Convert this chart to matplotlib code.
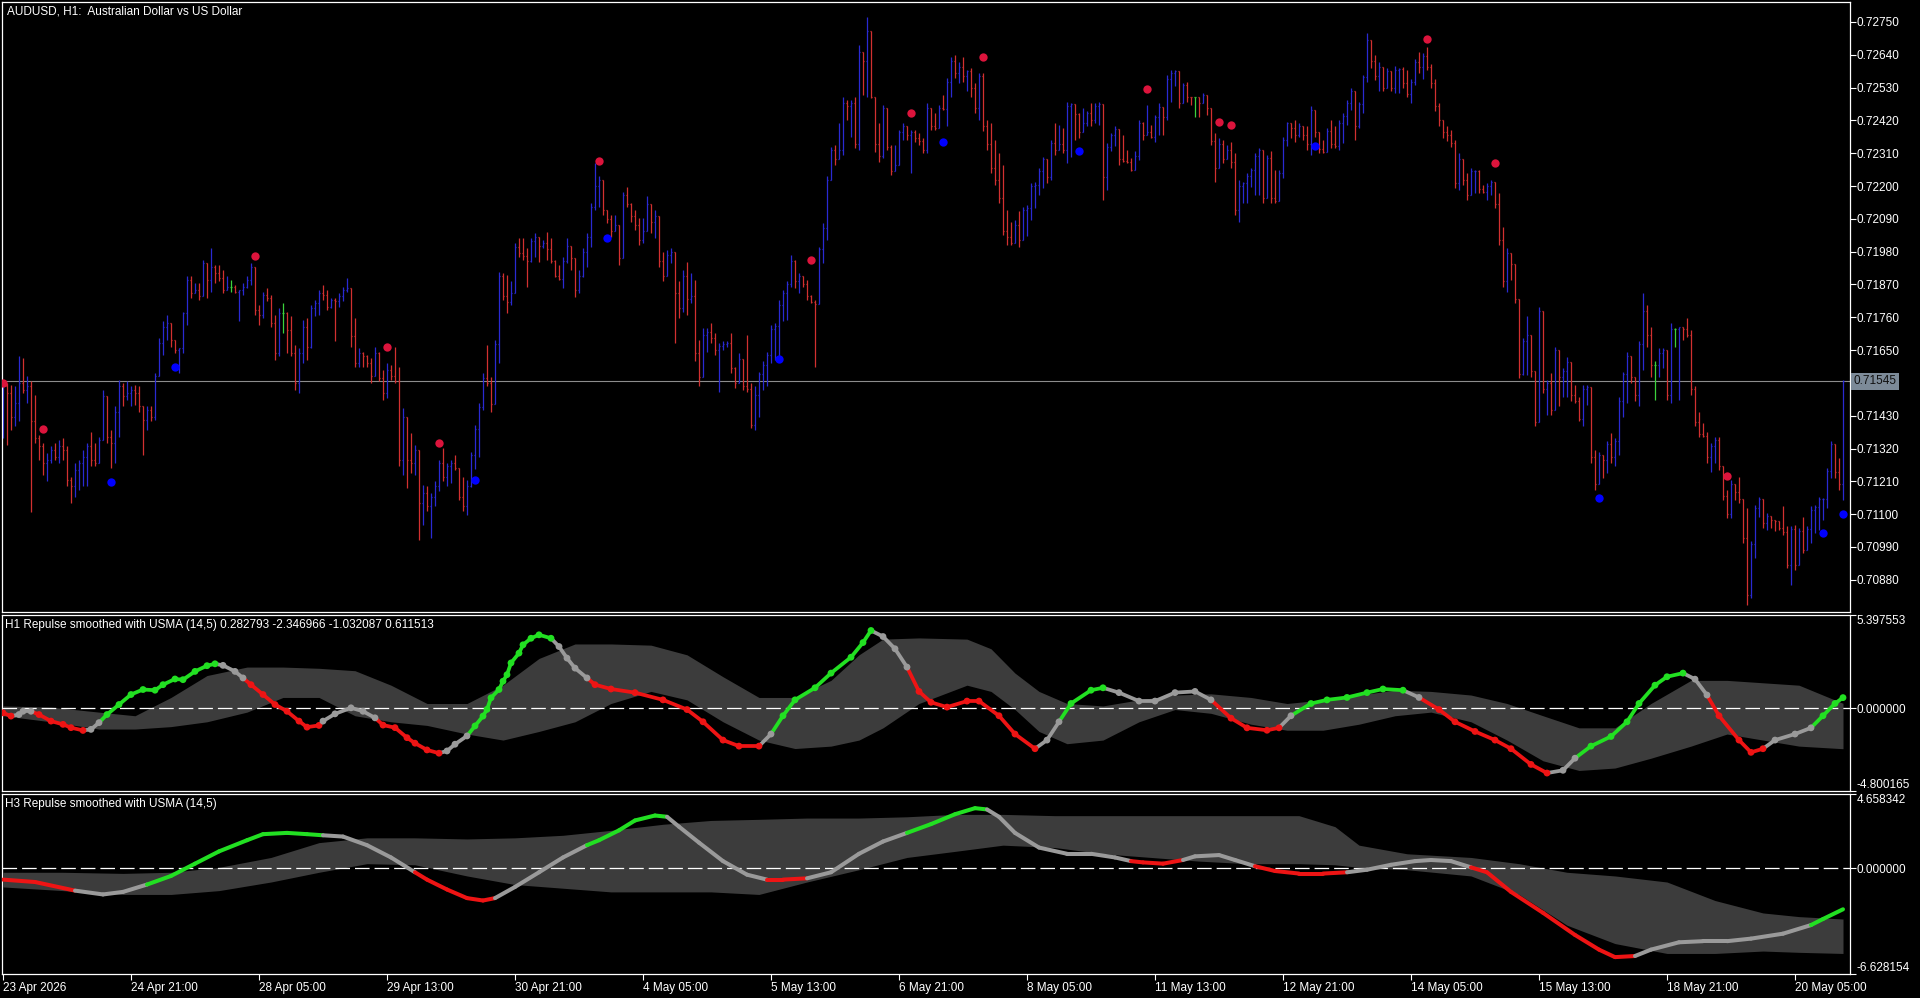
import numpy as np
import matplotlib
matplotlib.use("Agg")
import matplotlib.pyplot as plt
import matplotlib.transforms as mtransforms

plt.rcParams['font.family'] = ['Liberation Sans', 'DejaVu Sans']
plt.rcParams['lines.scale_dashes'] = False

# ---- AUDUSD H1 bars, prices in points above 0.70000 ----
first_open = 1400
bar_high = [
    1539,1541,1534,1528,1629,1623,1562,1545,1500,1366, 1338,1305,1327,1338,1349,1355,1327,1226,1271,1282,
    1316,1338,1377,1338,1360,1517,1472,1383,1461,1550, 1539,1545,1528,1534,1528,1427,1461,1461,1573,1690,
    1746,1768,1740,1684,1656,1779,1897,1897,1874,1874, 1952,1941,1992,1936,1936,1919,1897,1885,1869,1852,
    1874,1897,1941,1908,1802,1846,1858,1835,1768,1791, 1807,1779,1763,1668,1656,1751,1757,1802,1818,1852,
    1869,1852,1824,1824,1841,1863,1891,1858,1757,1656, 1645,1634,1623,1662,1645,1584,1606,1601,1662,1595,
    1455,1427,1372,1333,1316,1198,1193,1171,1210,1282, 1321,1271,1282,1299,1254,1226,1215,1310,1400,1472,
    1572,1667,1561,1684,1913,1908,1902,1880,2008,2025, 2025,1991,2025,2042,2019,2019,2047,2025,1952,1935,
    1963,2025,1986,1952,1919,1991,2042,2142,2276,2232, 2176,2120,2103,2103,2053,2181,2198,2142,2120,2092,
    2092,2165,2137,2120,2092,1980,1986,1991,1963,1880, 1919,1947,1908,1885,1684,1723,1723,1740,1707,1673,
    1679,1679,1707,1595,1640,1612,1701,1539,1528,1578, 1612,1645,1734,1740,1818,1852,1880,1969,1952,1908,
    1896,1885,1835,1818,1997,2075,2232,2332,2338,2410, 2500,2488,2488,2500,2673,2634,2768,2684,2500,2410,
    2472,2399,2338,2338,2388,2410,2382,2388,2388,2377, 2360,2477,2461,2444,2472,2506,2562,2634,2640,2617,
    2634,2589,2595,2545,2578,2578,2422,2411,2355,2310, 2271,2120,2081,2087,2115,2131,2137,2210,2215,2260,
    2299,2271,2355,2411,2405,2394,2483,2478,2455,2444, 2461,2450,2478,2478,2483,2243,2344,2377,2400,2383,
    2372,2321,2293,2316,2422,2416,2472,2405,2439,2478, 2439,2573,2589,2589,2550,2545,2550,2500,2495,2495,
    2511,2500,2455,2377,2360,2355,2338,2349,2310,2221, 2215,2243,2260,2310,2327,2316,2305,2316,2254,2254,
    2366,2416,2400,2422,2411,2400,2400,2467,2455,2377, 2355,2394,2422,2400,2422,2444,2489,2528,2517,2483,
    2573,2712,2690,2640,2617,2589,2595,2567,2601,2595, 2600,2590,2560,2625,2650,2645,2665,2610,2560,2480,
    2420,2400,2388,2354,2310,2276,2243,2260,2254,2254, 2204,2209,2220,2215,2176,2064,1991,1952,1936,1807,
    1690,1763,1679,1567,1796,1735,1550,1573,1662,1567, 1589,1628,1595,1533,1494,1533,1533,1506,1316,1310,
    1288,1344,1372,1355,1494,1578,1645,1617,1561,1679, 1841,1802,1729,1612,1656,1656,1628,1740,1725,1729,
    1723,1757,1718,1528,1444,1405,1377,1338,1360,1360, 1238,1182,1215,1182,1226,1148,1120,1009,1131,1159,
    1148,1103,1087,1081,1075,1126,1059,1059,1064,1053, 1092,1059,1126,1131,1159,1154,1254,1344,1310,1288,
    1550]
bar_low = [
    1355,1333,1383,1394,1411,1506,1472,1106,1338,1282, 1232,1210,1271,1282,1271,1282,1193,1139,1159,1182,
    1193,1193,1260,1260,1282,1360,1338,1254,1271,1360, 1461,1483,1461,1467,1444,1299,1383,1411,1416,1573,
    1634,1684,1662,1640,1573,1640,1735,1824,1841,1818, 1841,1824,1846,1874,1880,1841,1852,1846,1841,1746,
    1835,1858,1869,1768,1735,1757,1813,1729,1617,1629, 1707,1640,1629,1517,1506,1606,1617,1656,1763,1768,
    1818,1785,1791,1679,1796,1813,1846,1662,1595,1595, 1595,1595,1539,1562,1545,1483,1489,1550,1539,1260,
    1232,1187,1238,1232,1014,1064,1109,1020,1126,1176, 1210,1193,1204,1249,1148,1109,1098,1190,1250,1290,
    1450,1528,1444,1494,1606,1818,1774,1801,1841,1963, 1952,1863,1945,1963,1947,1991,1952,1941,1896,1885,
    1857,1941,1919,1829,1841,1896,1930,1997,2120,2131, 2103,2075,2030,2053,1935,1980,2131,2081,2053,2003,
    2008,2053,2042,2025,1930,1880,1908,1941,1673,1757, 1779,1768,1807,1612,1528,1572,1645,1673,1634,1511,
    1651,1662,1572,1522,1561,1517,1511,1388,1383,1427, 1517,1528,1606,1617,1628,1746,1751,1863,1857,1841,
    1863,1818,1807,1595,1813,1941,2019,2220,2271,2310, 2304,2421,2366,2326,2321,2505,2500,2494,2315,2282,
    2293,2321,2237,2259,2315,2354,2354,2243,2349,2338, 2310,2310,2388,2388,2400,2455,2400,2500,2562,2545,
    2550,2517,2500,2444,2422,2383,2321,2243,2204,2143, 2037,2003,2003,2020,1997,2064,2031,2087,2126,2171,
    2193,2210,2221,2305,2333,2310,2277,2299,2355,2360, 2400,2400,2400,2411,2405,2154,2187,2316,2333,2271,
    2280,2277,2249,2266,2288,2355,2372,2360,2349,2372, 2372,2422,2483,2534,2461,2483,2483,2472,2433,2433,
    2478,2439,2338,2215,2277,2277,2293,2260,2104,2081, 2143,2143,2198,2171,2171,2143,2171,2143,2143,2154,
    2226,2333,2360,2349,2366,2355,2321,2305,2366,2310, 2310,2338,2327,2327,2321,2344,2405,2455,2355,2394,
    2444,2550,2595,2556,2517,2517,2534,2517,2511,2511, 2530,2500,2480,2540,2580,2560,2590,2530,2450,2400,
    2360,2350,2330,2193,2187,2204,2153,2193,2176,2176, 2176,2153,2170,2126,2003,1863,1846,1885,1807,1556,
    1567,1567,1561,1394,1461,1506,1433,1433,1472,1461, 1494,1494,1478,1472,1411,1394,1466,1271,1182,1204,
    1221,1238,1271,1260,1299,1427,1472,1539,1478,1461, 1584,1662,1561,1483,1561,1589,1483,1472,1662,1483,
    1684,1695,1500,1394,1360,1360,1271,1243,1271,1249, 1148,1087,1087,1148,1137,1003,796,819,953,1092,
    1053,1048,1053,1042,1048,1031,919,863,914,936, 969,981,1003,1036,1048,1081,1120,1221,1221,1182,
    1148]
bar_close = [
    1528,1506,1427,1472,1539,1517,1528,1411,1355,1327, 1271,1282,1316,1293,1327,1316,1215,1193,1249,1271,
    1293,1327,1282,1271,1349,1495,1360,1338,1444,1528, 1495,1506,1517,1506,1461,1416,1450,1427,1562,1673,
    1729,1740,1684,1651,1656,1774,1885,1841,1852,1830, 1941,1885,1930,1908,1891,1852,1863,1863,1846,1850,
    1863,1885,1930,1785,1768,1835,1824,1740,1640,1774, 1774,1718,1640,1539,1640,1729,1662,1791,1807,1841,
    1835,1796,1818,1813,1830,1852,1858,1696,1606,1640, 1629,1606,1562,1640,1556,1506,1584,1562,1545,1282,
    1427,1282,1271,1316,1137,1171,1126,1159,1193,1271, 1226,1260,1271,1254,1159,1126,1193,1300,1385,1460,
    1555,1540,1470,1670,1900,1830,1810,1840,1995,1975, 1965,1950,2015,2030,2000,2010,1990,1950,1900,1890,
    1950,2000,1960,1850,1900,1980,2030,2130,2200,2220, 2120,2090,2050,2070,1960,2170,2140,2100,2070,2020,
    2050,2140,2080,2100,1950,1900,1970,1980,1840,1790, 1900,1820,1830,1640,1560,1700,1710,1690,1650,1665,
    1670,1675,1590,1540,1620,1530,1520,1400,1500,1570, 1600,1635,1720,1730,1800,1840,1870,1950,1880,1900,
    1870,1830,1810,1805,1990,2060,2220,2320,2290,2320, 2480,2470,2480,2340,2650,2620,2720,2500,2340,2300,
    2460,2330,2250,2270,2380,2400,2370,2380,2360,2350, 2320,2460,2400,2395,2460,2458,2550,2620,2580,2600,
    2570,2585,2530,2460,2570,2400,2340,2260,2220,2160, 2050,2030,2010,2070,2020,2120,2125,2200,2205,2250,
    2290,2230,2345,2320,2340,2320,2470,2475,2440,2380, 2410,2445,2420,2470,2475,2230,2330,2370,2390,2290,
    2285,2280,2255,2300,2410,2370,2380,2365,2430,2465, 2430,2560,2580,2585,2480,2540,2500,2498,2498,2480,
    2505,2460,2350,2260,2340,2290,2320,2280,2120,2200, 2210,2235,2255,2300,2320,2160,2295,2160,2150,2245,
    2355,2410,2395,2370,2400,2370,2340,2455,2380,2325, 2315,2385,2340,2335,2410,2435,2480,2520,2400,2475,
    2565,2690,2620,2570,2600,2530,2585,2530,2590,2592, 2545,2510,2550,2615,2600,2635,2600,2545,2470,2420,
    2380,2370,2345,2210,2290,2220,2170,2250,2252,2190, 2180,2200,2215,2140,2020,1880,1975,1940,1820,1570,
    1680,1700,1580,1410,1780,1520,1540,1450,1650,1560, 1580,1610,1500,1480,1420,1520,1525,1290,1200,1300,
    1280,1335,1290,1345,1480,1570,1630,1560,1500,1670, 1780,1700,1600,1600,1640,1650,1500,1720,1720,1728,
    1722,1700,1520,1410,1370,1362,1290,1330,1350,1260, 1160,1100,1200,1175,1150,1020,830,1000,1120,1150,
    1070,1095,1080,1078,1055,1040,930,1050,930,1045, 980,1050,1115,1125,1150,1152,1245,1335,1240,1200,
    1545]

# signal dots on the price chart (bar index, points above 0.70000)
red_dot_bar = [0, 10, 63, 96, 109, 149, 202, 227, 245, 286, 304, 307, 356, 373, 431]
red_dot_val = [1541, 1384, 1964, 1662, 1337, 2285, 1952, 2446, 2634, 2526, 2415, 2405, 2693, 2277, 1229]
blue_dot_bar = [27, 43, 118, 151, 194, 235, 269, 328, 399, 455, 460]
blue_dot_val = [1208, 1592, 1215, 2026, 1620, 2346, 2319, 2333, 1153, 1037, 1101]

last_price = 0.71545
price_ticks = [0.72750 - 0.0011 * k for k in range(18)]

# time axis
date_tick_bars = [32 * k for k in range(15)]
date_tick_labels = ["23 Apr 2026", "24 Apr 21:00", "28 Apr 05:00", "29 Apr 13:00", "30 Apr 21:00",
                    "4 May 05:00", "5 May 13:00", "6 May 21:00", "8 May 05:00", "11 May 13:00",
                    "12 May 21:00", "14 May 05:00", "15 May 13:00", "18 May 21:00", "20 May 05:00"]

# ---- H1 Repulse (dots) ----
h1_idx = [0,2,4,5,7,9,12,15,17,20, 22,24,26,29,32,35,38,40,43,45, 48,51,53,55,58,60,62,65,68,71,
          74,76,79,80,83,87,90,93,95,98, 101,103,106,109,111,113,116,118,120,121, 122,124,125,126,127,129,130,132,134,137,
          139,141,143,146,148,152,158,165,171,175, 180,184,189,192,195,198,203,207,212,215, 217,220,223,226,229,232,236,241,244,249,
          253,258,261,264,267,272,275,279,284,288, 293,298,302,307,311,316,319,322,327,331, 336,341,345,350,354,359,363,368,373,377,
          382,386,390,393,397,402,406,409,413,416, 420,423,426,429,434,437,440,443,448,452, 455,458,460]
h1_val = [-0.27,-0.46,-0.37,-0.18,-0.18,-0.37,-0.75,-0.94,-1.13,-1.29, -1.23,-0.84,-0.37,0.21,0.79,1.08,1.04,1.36,1.69,1.65,
          2.13,2.46,2.57,2.48,2.13,1.75,1.36,0.79,0.21,-0.18, -0.75,-1.10,-1.00,-0.75,-0.33,0.02,-0.18,-0.56,-0.98,-1.13,
          -1.71,-2.03,-2.42,-2.61,-2.48,-2.09,-1.61,-1.03,-0.46,-0.07, 0.60,1.08,1.56,1.94,2.62,3.19,3.67,4.05,4.25,4.05,
          3.57,2.90,2.32,1.75,1.36,1.11,0.90,0.48,-0.08,-0.79, -1.85,-2.20,-2.20,-1.50,-0.44,0.48,1.18,2.03,2.95,3.80,
          4.50,4.15,3.44,2.38,0.97,0.34,0.06,0.41,0.41,-0.44, -1.50,-2.35,-1.85,-0.79,0.27,1.04,1.18,0.90,0.41,0.41,
          0.90,0.97,0.48,-0.58,-1.14,-1.28,-1.14,-0.44,0.27,0.48, 0.62,0.90,1.11,1.04,0.62,-0.08,-0.79,-1.35,-1.85,-2.35,
          -3.26,-3.76,-3.60,-2.90,-2.20,-1.64,-0.79,0.27,1.33,1.82, 2.03,1.68,0.76,-0.44,-1.85,-2.56,-2.35,-1.85,-1.50,-1.14,
          -0.44,0.27,0.61]
h1_state = ("rrnnnrrrrr" "nngggggggg" "gggnnnrrrr" "rrrnnnnnrr" "rrrrnnnggg" "gggggggggg" "nnnnr"
            "rrrrrrrrng" "ggggggnnnr" "rrrrrrrnng" "ggnnnnnnrr" "rrnggggggn" "rrrrrrrnng" "ggggggnnrr" "rrnnnggg")
h1_band_idx = [0,12,24,33,42,51,61,70,79,88, 97,106,116,125,134,143,152,162,171,180, 189,198,207,214,220,229,241,247,253,259,
               266,275,284,293,302,312,321,330,339,348, 357,367,376,385,394,403,412,422,431,440, 449,460]
h1_upper = [0.13,0.06,-0.23,-0.44,0.62,1.89,2.38,2.38,2.31,2.17, 1.33,0.27,0.27,1.33,2.88,3.72,3.72,3.65,3.09,1.82,
            0.62,0.62,1.61,3.09,4.00,4.07,4.00,3.44,2.03,0.97, 0.27,0.13,0.48,0.76,0.83,0.62,0.27,0.48,0.76,1.04,
            0.97,0.76,0.27,-0.44,-1.14,-1.14,0.27,1.61,1.61,1.47, 1.33,0.28]
h1_lower = [-0.44,-0.79,-1.21,-1.21,-1.07,-0.79,-0.23,0.62,0.62,-0.44, -0.79,-1.00,-1.50,-1.85,-1.35,-0.79,0.27,0.97,0.48,-0.79,
            -1.85,-2.34,-2.20,-1.85,-1.14,0.27,1.33,0.97,-0.08,-1.35, -2.06,-1.85,-0.79,-0.08,-0.30,-0.93,-1.28,-1.28,-0.93,-0.44,
            -0.23,-0.79,-1.85,-3.05,-3.61,-3.47,-2.90,-2.20,-1.50,-1.85, -2.20,-2.35]
h1_range = (-4.800165, 5.397553)

# ---- H3 Repulse (line) ----
h3_idx = [0,8,18,25,30,36,42,48,54,61, 65,71,76,80,85,91,97,103,106,111, 116,120,123,128,134,140,146,149,154,158,
          163,166,169,174,180,186,191,195,201,207, 214,220,226,232,238,243,246,249,253,259, 266,272,278,282,285,290,295,298,304,308,
          313,318,324,330,336,341,347,353,357,362, 367,371,377,385,393,399,403,408,412,419, 425,431,437,445,452,455,460]
h3_val = [-0.71,-0.86,-1.40,-1.64,-1.48,-1.02,-0.48,0.29,1.06,1.76, 2.14,2.22,2.14,2.07,1.99,1.45,0.68,-0.25,-0.71,-1.33,
          -1.87,-2.02,-1.87,-1.17,-0.25,0.68,1.45,1.76,2.38,3.00, 3.31,3.23,2.61,1.61,0.45,-0.40,-0.71,-0.71,-0.63,-0.25,
          0.91,1.68,2.22,2.77,3.39,3.77,3.69,3.23,2.22,1.30, 0.91,0.91,0.68,0.45,0.37,0.29,0.52,0.75,0.83,0.52,
          0.13,-0.17,-0.33,-0.33,-0.25,-0.09,0.22,0.45,0.52,0.45, 0.06,-0.25,-1.48,-2.79,-4.18,-5.10,-5.57,-5.50,-5.10,-4.64,
          -4.57,-4.57,-4.41,-4.10,-3.56,-3.18,-2.57]
h3_state = ("rrrnnngggg" "ggggnnnnrr" "rrrnnnnggg" "ggnnnnnrrn" "nnnggggnnn" "nnnnrrrnnn" "nrrrrnnnnn" "nrrrrrrrnn" "nnnnngg")
h3_band_idx = [0,15,30,42,54,67,79,91,103,116, 128,140,152,165,177,189,201,214,226,238, 250,263,275,287,299,311,324,333,339,351,
               367,379,391,403,416,428,440,449,460]
h3_upper = [-0.25,-0.25,-0.32,-0.25,0.06,0.68,1.61,1.91,1.91,1.84, 1.91,2.07,2.38,2.76,3.00,3.07,3.15,3.15,3.23,3.38,
            3.38,3.30,3.30,3.30,3.30,3.30,3.30,2.61,1.45,0.91, 0.68,0.29,-0.25,-0.48,-0.86,-2.02,-2.80,-3.03,-3.18]
h3_lower = [-1.17,-1.40,-1.64,-1.64,-1.40,-0.86,-0.25,0.29,0.22,-0.48, -1.02,-1.25,-1.48,-1.48,-1.48,-1.64,-0.86,-0.09,0.68,1.06,
            1.45,1.30,0.91,0.68,0.45,0.29,0.29,0.22,0.06,-0.09, -0.48,-1.64,-3.57,-4.72,-5.34,-5.34,-5.19,-5.27,-5.34]
h3_range = (-6.628154, 4.658342)

# ---- colours ----
BG = 'black'
FG = 'white'
BAR_UP = '#2a2ad2'
BAR_DN = '#d23030'
BAR_DOJI = '#3cd23c'
DOT_RED = '#dc143c'
DOT_BLUE = '#0000ff'
BAND = '#3c3c3c'
STATE_COL = {'g': '#22e022', 'r': '#ee1414', 'n': '#9a9a9a'}
FS = 8.5

W, H = 1920, 998
fig = plt.figure(figsize=(W / 100, H / 100), dpi=100, facecolor=BG)


def px_axes(left, top, right, bottom):
    ax = fig.add_axes([left / W, 1 - bottom / H, (right - left) / W, (bottom - top) / H])
    ax.set_facecolor(BG)
    for s in ax.spines.values():
        s.set_color(FG)
        s.set_linewidth(0.9)
    ax.set_xlim(-0.25, 461.75)
    ax.tick_params(axis='x', length=0, labelbottom=False)
    ax.yaxis.tick_right()
    ax.tick_params(axis='y', colors=FG, length=4, width=0.8, pad=1, labelsize=FS, direction='out')
    return ax


ax1 = px_axes(2, 2, 1850, 612)
ax2 = px_axes(2, 615, 1850, 791)
ax3 = px_axes(2, 794, 1850, 974)

# ---- price bars ----
x = np.arange(len(bar_close))
hi = 0.70 + np.array(bar_high) / 1e5
lo = 0.70 + np.array(bar_low) / 1e5
cl = 0.70 + np.array(bar_close) / 1e5
op = np.r_[0.70 + first_open / 1e5, cl[:-1]]
ci = np.array(bar_close)
oi = np.r_[first_open, ci[:-1]]
cols = np.where(ci > oi, BAR_UP, np.where(ci < oi, BAR_DN, BAR_DOJI))
top = np.maximum(hi, np.maximum(op, cl))
bot = np.minimum(lo, np.minimum(op, cl))
ax1.vlines(x, bot, top, colors=cols, linewidth=0.9)
ax1.hlines(op, x - 0.3, x, colors=cols, linewidth=0.9)
ax1.hlines(cl, x, x + 0.3, colors=cols, linewidth=0.9)

ax1.axhline(last_price, color='#8c8c8c', lw=0.8, zorder=1)
ax1.scatter(red_dot_bar, 0.70 + np.array(red_dot_val) / 1e5, s=36, color=DOT_RED, linewidths=0, zorder=5)
ax1.scatter(blue_dot_bar, 0.70 + np.array(blue_dot_val) / 1e5, s=36, color=DOT_BLUE, linewidths=0, zorder=5)

ax1.set_ylim(0.70772, 0.72817)
ax1.set_yticks(price_ticks)
ax1.set_yticklabels([f"{v:.5f}" for v in price_ticks])
trans = mtransforms.blended_transform_factory(ax1.transAxes, ax1.transData)
ax1.text(1.0017, last_price, f"{last_price:.5f}", transform=trans, ha='left', va='center',
         fontsize=FS, color='#101010', clip_on=False, zorder=10,
         bbox=dict(boxstyle='square,pad=0.2', fc='#7c8a98', ec='none'))

fig.text(7 / W, 1 - 5 / H, "AUDUSD, H1:  Australian Dollar vs US Dollar", color=FG,
         fontsize=FS, ha='left', va='top')


# ---- indicator panels ----
def indicator(ax, band_idx, upper, lower, idx, vals, states, rng, lw, dots):
    ax.fill_between(band_idx, lower, upper, color=BAND, lw=0, zorder=1)
    ax.axhline(0, color=FG, lw=0.9, dashes=(10.5, 3.6), zorder=2)
    for k in range(len(idx) - 1):
        ax.plot(idx[k:k + 2], vals[k:k + 2], color=STATE_COL[states[k + 1]], lw=lw,
                solid_capstyle='round', zorder=3)
    if dots:
        ax.scatter(idx, vals, s=24, c=[STATE_COL[s] for s in states], linewidths=0, zorder=4)
    ax.set_ylim(*rng)
    ticks = [rng[0], 0.0, rng[1]]
    ax.set_yticks(ticks)
    ax.set_yticklabels([f"{v:.6f}" for v in ticks])
    labs = ax.get_yticklabels()
    labs[0].set_va('bottom')
    labs[2].set_va('top')


indicator(ax2, h1_band_idx, h1_upper, h1_lower, h1_idx, h1_val, h1_state, h1_range, 2.7, True)
indicator(ax3, h3_band_idx, h3_upper, h3_lower, h3_idx, h3_val, h3_state, h3_range, 2.9, False)

fig.text(5 / W, 1 - 619 / H, "H1 Repulse smoothed with USMA (14,5) 0.282793 -2.346966 -1.032087 0.611513",
         color=FG, fontsize=FS, ha='left', va='top')
fig.text(5 / W, 1 - 798 / H, "H3 Repulse smoothed with USMA (14,5)",
         color=FG, fontsize=FS, ha='left', va='top')

# ---- time axis ----
ax3.set_xticks(date_tick_bars)
ax3.set_xticklabels(date_tick_labels)
ax3.tick_params(axis='x', length=4, width=0.8, colors=FG, labelbottom=True, labelsize=FS, pad=2, direction='out')
for lab in ax3.get_xticklabels():
    lab.set_ha('left')

fig.savefig("out.png", dpi=100, facecolor=BG)
